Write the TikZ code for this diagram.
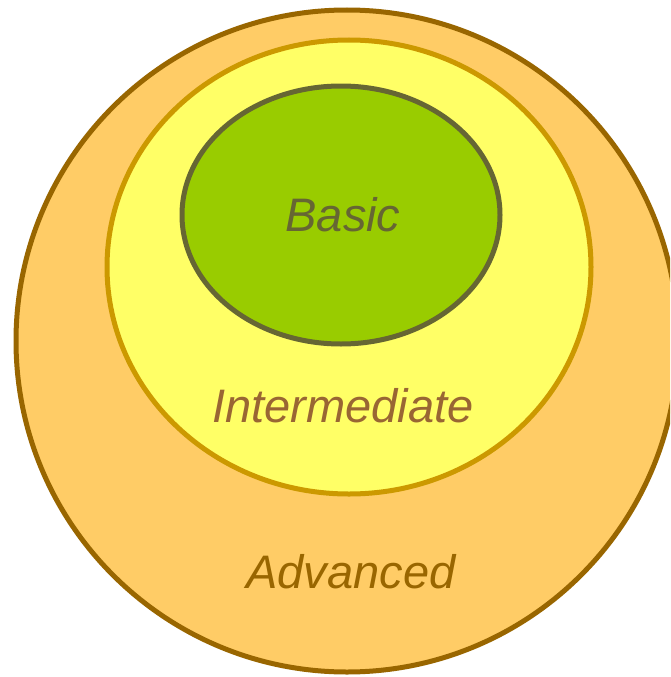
\documentclass[tikz,border=0pt]{standalone}
\usepackage{fontspec}
\setmainfont{Liberation Sans}
\definecolor{advfill}{HTML}{FFCC66}
\definecolor{advline}{HTML}{996600}
\definecolor{intfill}{HTML}{FFFF66}
\definecolor{intline}{HTML}{CC9900}
\definecolor{basfill}{HTML}{99CC00}
\definecolor{basline}{HTML}{666633}
\definecolor{inttext}{HTML}{996633}
\tikzset{
  ring/.style={line width=5pt},
  lbl/.style={font=\fontsize{47}{50}\selectfont\itshape, inner sep=0pt}
}
\begin{document}
\begin{tikzpicture}[x=1pt,y=-1pt]
\useasboundingbox (0,0) rectangle (670,677);
\clip (0,0) rectangle (670,677);
\draw[ring, fill=advfill, draw=advline] (347,341) ellipse [x radius=331, y radius=331];
\draw[ring, fill=intfill, draw=intline] (349,267) ellipse [x radius=242, y radius=227];
\draw[ring, fill=basfill, draw=basline] (341,215) ellipse [x radius=159, y radius=129];
\node[lbl, text=basline] (basic) at (343,215) {Basic};
\node[lbl, text=inttext] (inter) at (343,406) {Intermediate};
\node[lbl, text=advline] (adv) at (351,572) {Advanced};
\end{tikzpicture}
\end{document}
